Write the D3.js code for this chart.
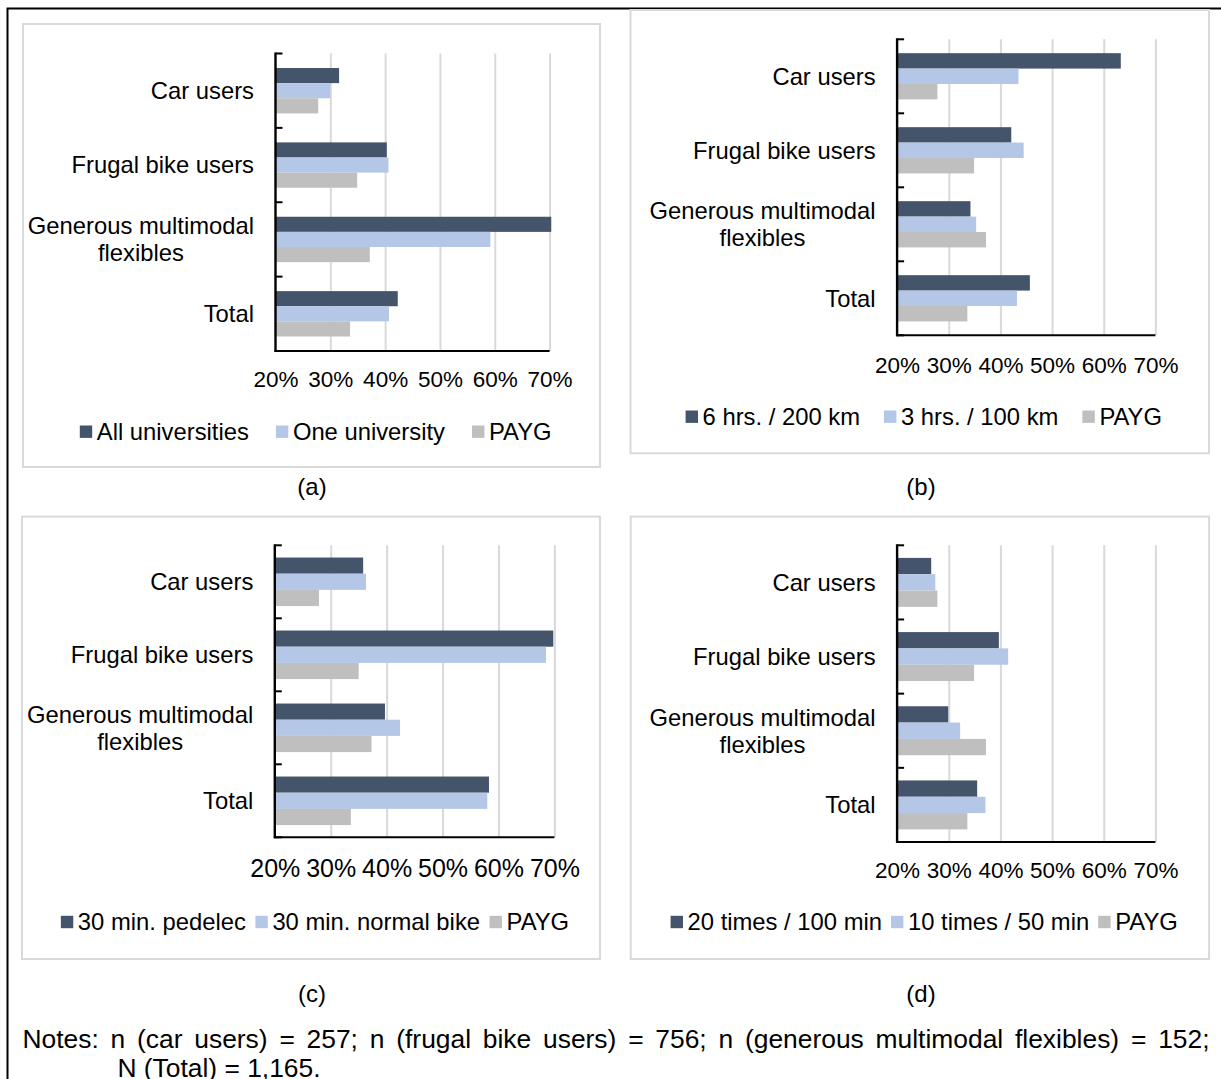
<!DOCTYPE html>
<html><head><meta charset="utf-8">
<script src="https://cdn.jsdelivr.net/npm/d3@7"></script>
<style>
body{margin:0;background:#fff}
svg{display:block}
text{font-family:"Liberation Sans",Arial,sans-serif;fill:#000}
</style>
</head><body>
<svg id="chart" width="1221" height="1079"></svg>
<script>
// ---------- data ----------
const categories = ["Car users", "Frugal bike users", "Generous multimodal flexibles", "Total"];
const tickValues = [0.2, 0.3, 0.4, 0.5, 0.6, 0.7];
const tickLabels = ["20%", "30%", "40%", "50%", "60%", "70%"];

const seriesA = ["All universities", "One university", "PAYG"];
const valuesA1 = [0.316, 0.403, 0.703, 0.423];
const valuesA2 = [0.300, 0.406, 0.592, 0.407];
const valuesA3 = [0.278, 0.349, 0.372, 0.336];

const seriesB = ["6 hrs. / 200 km", "3 hrs. / 100 km", "PAYG"];
const valuesB1 = [0.633, 0.421, 0.342, 0.457];
const valuesB2 = [0.435, 0.445, 0.353, 0.432];
const valuesB3 = [0.278, 0.349, 0.372, 0.336];

const seriesC = ["30 min. pedelec", "30 min. normal bike", "PAYG"];
const valuesC1 = [0.358, 0.698, 0.397, 0.583];
const valuesC2 = [0.363, 0.685, 0.424, 0.580];
const valuesC3 = [0.279, 0.350, 0.373, 0.336];

const seriesD = ["20 times / 100 min", "10 times / 50 min", "PAYG"];
const valuesD1 = [0.266, 0.397, 0.299, 0.355];
const valuesD2 = [0.274, 0.415, 0.322, 0.371];
const valuesD3 = [0.278, 0.349, 0.372, 0.336];

const panelLabels = ["(a)", "(b)", "(c)", "(d)"];
const notesLine1 = "Notes: n (car users) = 257; n (frugal bike users) = 756; n (generous multimodal flexibles) = 152;";
const notesLine2 = "N (Total) = 1,165.";
const seriesColors = ["#44546a", "#b4c7e7", "#bfbfbf"];

// ---------- layout ----------
const FONT = 23.8;
const panels = [
  {series: seriesA, values: [valuesA1, valuesA2, valuesA3], box: [23, 24, 600, 467],
   x0: 275.5, x1: 549.6, y0: 53.5, y1: 351, group: 0.61, tickY: 379.5, tickFont: 22.5,
   legendY: 431.7, legendCx: 315.7, legendGap: 27, cap: [312, 487]},
  {series: seriesB, values: [valuesB1, valuesB2, valuesB3], box: [630.5, 10, 1209, 453.3],
   x0: 897.1, x1: 1155.4, y0: 39.3, y1: 335.3, group: 0.625, tickY: 365, tickFont: 22.5,
   legendY: 416.7, legendCx: 923.8, legendGap: 24, cap: [921, 487]},
  {series: seriesC, values: [valuesC1, valuesC2, valuesC3], box: [22, 516.6, 600, 959],
   x0: 274.8, x1: 554.4, y0: 545.3, y1: 837.3, group: 0.665, tickY: 868.6, tickFont: 25,
   legendY: 922, legendCx: 315, legendGap: 9.5, cap: [312, 994]},
  {series: seriesD, values: [valuesD1, valuesD2, valuesD3], box: [630.7, 516.6, 1209.1, 959],
   x0: 897.1, x1: 1155.4, y0: 545.3, y1: 842, group: 0.66, tickY: 870.4, tickFont: 22.5,
   legendY: 922, legendCx: 924.2, legendGap: 9, cap: [921, 994]}
];

const svg = d3.select("#chart");

function measure(str, size) {
  const t = svg.append("text").attr("font-size", size).text(str);
  const w = t.node().getComputedTextLength();
  t.remove();
  return w;
}

// outer frame
svg.append("path").attr("d", "M7.5,1079 L7.5,8.5 L1221,8.5")
  .attr("fill", "none").attr("stroke", "#000").attr("stroke-width", 2);

panels.forEach((p, pi) => {
  const g = svg.append("g");
  // panel border
  g.append("rect").attr("x", p.box[0]).attr("y", p.box[1])
    .attr("width", p.box[2] - p.box[0]).attr("height", p.box[3] - p.box[1])
    .attr("fill", "#fff").attr("stroke", "#d9d9d9").attr("stroke-width", 2);

  const x = d3.scaleLinear().domain([0.2, 0.7]).range([p.x0, p.x1]);
  const y = d3.scaleBand().domain(categories).range([p.y0, p.y1])
    .paddingInner(1 - p.group).paddingOuter((1 - p.group) / 2);
  const ys = d3.scaleBand().domain(p.series).range([0, y.bandwidth()]);

  // gridlines
  const grid = g.append("g").attr("transform", `translate(0,${p.y1})`)
    .call(d3.axisBottom(x).tickValues(tickValues.slice(1)).tickSize(-(p.y1 - p.y0)).tickFormat(""));
  grid.select(".domain").remove();
  grid.selectAll("line").attr("stroke", "#d9d9d9").attr("stroke-width", 2);

  // bars
  p.series.forEach((s, si) => {
    g.append("g").selectAll("rect").data(categories).join("rect")
      .attr("x", x(0.2))
      .attr("y", c => y(c) + ys(s))
      .attr("width", (c, i) => x(p.values[si][i]) - x(0.2))
      .attr("height", ys.bandwidth())
      .attr("fill", seriesColors[si]);
  });

  // x tick labels
  const xa = g.append("g").attr("transform", `translate(0,${p.tickY})`)
    .call(d3.axisBottom(x).tickValues(tickValues).tickSize(0).tickPadding(0)
      .tickFormat((d, i) => tickLabels[i]));
  xa.select(".domain").remove();
  xa.selectAll("text").attr("font-size", p.tickFont).attr("font-family", null)
    .attr("fill", "#000").attr("y", 0).attr("dy", "0.35em");

  // axis lines
  g.append("line").attr("x1", p.x0 - 1).attr("x2", p.x1).attr("y1", p.y1).attr("y2", p.y1)
    .attr("stroke", "#000").attr("stroke-width", 2);
  g.append("line").attr("x1", p.x0).attr("x2", p.x0).attr("y1", p.y0 - 1).attr("y2", p.y1 + 1)
    .attr("stroke", "#000").attr("stroke-width", 2.4);
  const step = y.step();
  d3.range(categories.length + 1).forEach(k => {
    const yy = p.y0 + k * step;
    g.append("line").attr("x1", p.x0).attr("x2", p.x0 + 7).attr("y1", yy).attr("y2", yy)
      .attr("stroke", "#000").attr("stroke-width", 2);
  });

  // category labels
  const pad = 21.5;
  const ya = g.append("g").attr("transform", `translate(${p.x0},0)`)
    .call(d3.axisLeft(y).tickSize(0).tickPadding(pad));
  ya.select(".domain").remove();
  ya.selectAll("text").attr("font-size", FONT).attr("font-family", null).attr("fill", "#000")
    .attr("dy", "0.35em")
    .each(function(d) {
      if (d === "Generous multimodal flexibles") {
        const t = d3.select(this);
        const l1 = "Generous multimodal", l2 = "flexibles";
        const w1 = measure(l1, FONT);
        t.text(null).attr("text-anchor", "middle").attr("dy", null);
        const cx = -pad - w1 / 2;
        t.append("tspan").attr("x", cx).attr("dy", "-0.22em").text(l1);
        t.append("tspan").attr("x", cx).attr("dy", "27px").text(l2);
        t.attr("y", 0).attr("transform", null);
        t.select("tspan").attr("dy", (-13.5 + 0.35 * FONT) + "px");
      }
    });

  // legend
  const sq = 12.4, tg = 4.6;
  const widths = p.series.map(s => measure(s, FONT));
  const total = d3.sum(widths) + p.series.length * (sq + tg) + (p.series.length - 1) * p.legendGap;
  let lx = p.legendCx - total / 2;
  const lg = g.append("g");
  p.series.forEach((s, si) => {
    lg.append("rect").attr("x", lx).attr("y", p.legendY - sq / 2).attr("width", sq).attr("height", sq)
      .attr("fill", seriesColors[si]);
    lg.append("text").attr("x", lx + sq + tg).attr("y", p.legendY).attr("dy", "0.35em")
      .attr("font-size", FONT).text(s);
    lx += sq + tg + widths[si] + p.legendGap;
  });

  // caption
  svg.append("text").attr("x", p.cap[0]).attr("y", p.cap[1]).attr("dy", "0.35em")
    .attr("text-anchor", "middle").attr("font-size", 24).text(panelLabels[pi]);
});

// notes (justified first line)
const NF = 26.4;
const words = notesLine1.split(" ");
const ww = words.map(w => measure(w, NF));
const left = 22.5, right = 1209.5;
const gap = (right - left - d3.sum(ww)) / (words.length - 1);
const nt = svg.append("text").attr("y", 1039).attr("dy", "0.35em").attr("font-size", NF);
let cx = left;
words.forEach((w, i) => {
  nt.append("tspan").attr("x", cx).text(w);
  cx += ww[i] + gap;
});
svg.append("text").attr("x", 117.4).attr("y", 1068).attr("dy", "0.35em").attr("font-size", NF).text(notesLine2);
</script>
</body></html>
